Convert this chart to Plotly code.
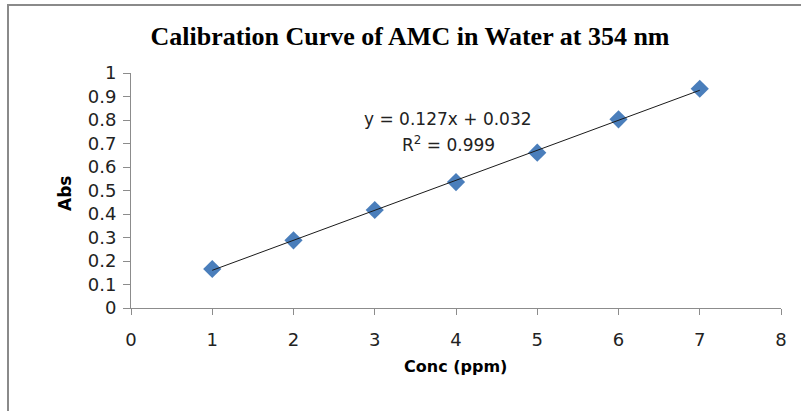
import numpy as np
import plotly.graph_objects as go

conc = [1, 2, 3, 4, 5, 6, 7]
absorbance = [0.166, 0.288, 0.417, 0.536, 0.661, 0.803, 0.933]
x_ticks = [0, 1, 2, 3, 4, 5, 6, 7, 8]
y_ticks = [0, 0.1, 0.2, 0.3, 0.4, 0.5, 0.6, 0.7, 0.8, 0.9, 1]
title_text = "Calibration Curve of AMC in Water at 354 nm"
x_title = "Conc (ppm)"
y_title = "Abs"
eq_text = "y = 0.127x + 0.032"
r2_text = "R<sup>2</sup> = 0.999"

slope, intercept = np.polyfit(conc, absorbance, 1)
fit_x = [conc[0], conc[-1]]
fit_y = [slope * v + intercept for v in fit_x]

W, H = 801, 411
L, R, T, B = 131, 20, 73, 103
pw, ph = W - L - R, H - T - B


def px(xp):
    return (xp - L) / pw


def py(yp):
    return (H - B - yp) / ph


SANS = "DejaVu Sans, Verdana, sans-serif"

fig = go.Figure()
fig.add_trace(go.Scatter(x=conc, y=absorbance, mode="markers",
                         marker=dict(symbol="diamond", size=14, color="#4A7EBB"),
                         showlegend=False, hoverinfo="skip"))
fig.add_trace(go.Scatter(x=fit_x, y=fit_y, mode="lines",
                         line=dict(color="#1a1a1a", width=1),
                         showlegend=False, hoverinfo="skip"))

axis_common = dict(showgrid=False, zeroline=False, showline=True,
                   linecolor="#8C8C8C", linewidth=1, ticks="outside",
                   tickcolor="#8C8C8C",
                   tickfont=dict(family=SANS, size=18, color="#222"))

fig.update_layout(
    width=W, height=H,
    margin=dict(l=L, r=R, t=T, b=B),
    paper_bgcolor="white", plot_bgcolor="white",
    title=dict(text="<b>" + title_text + "</b>",
               font=dict(family="Liberation Serif, Times New Roman, serif", size=26, color="#000"),
               x=410 / W, xanchor="center", y=1 - 36 / H, yanchor="middle"),
    xaxis=dict(range=[0, 8], tickvals=x_ticks, ticklen=6, ticklabelstandoff=9, **axis_common),
    yaxis=dict(range=[0, 1], tickvals=y_ticks, ticklen=7, ticklabelstandoff=3, **axis_common),
    annotations=[
        dict(text=eq_text, x=px(448), y=py(107), xref="paper", yref="paper",
             showarrow=False, font=dict(family=SANS, size=17, color="#222")),
        dict(text=r2_text, x=px(448), y=py(131), xref="paper", yref="paper",
             showarrow=False, font=dict(family=SANS, size=17, color="#222")),
        dict(text="<b>" + x_title + "</b>", x=px(455), y=py(378), xref="paper", yref="paper",
             showarrow=False, font=dict(family=SANS, size=16, color="#000")),
        dict(text="<b>" + y_title + "</b>", x=px(53), y=py(194), xref="paper", yref="paper",
             showarrow=False, textangle=-90, font=dict(family=SANS, size=17, color="#000")),
    ],
    shapes=[dict(type="rect", xref="paper", yref="paper",
                 x0=px(8), x1=px(W + 20), y0=py(H + 20), y1=py(5),
                 line=dict(color="#8A8A8A", width=2), layer="below")],
)

fig.write_html("out.html")
